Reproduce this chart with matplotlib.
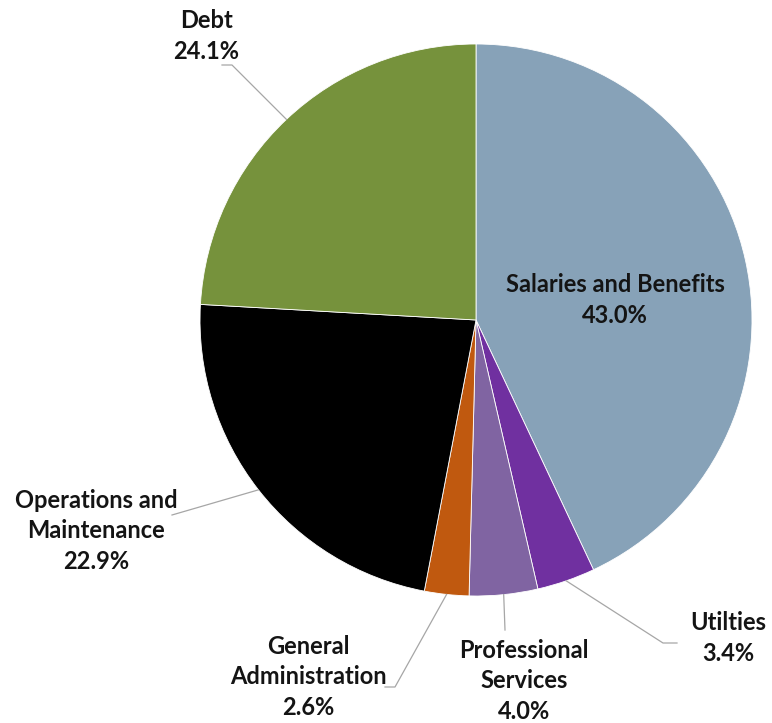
import numpy as np
import matplotlib.pyplot as plt

# slices, clockwise from 12 o'clock
labels = ['Salaries and Benefits', 'Utilties', 'Professional\nServices',
          'General\nAdministration', 'Operations and\nMaintenance', 'Debt']
shares = [43.0, 3.4, 4.0, 2.6, 22.9, 24.1]
colors = ['#87A2B8', '#7030A0', '#8064A2', '#C0590F', '#000000', '#76923C']

W, H = 772, 723
cx, cy, r = 476, 320, 276   # pie centre / radius in pixels (y down)

# label anchor (text centre) and leader elbow points, pixel coords, y down
label_pos = [(615, 300), (728, 638), (524, 681), (308, 677), (96, 531), (206, 36)]
elbows = [None, [(663, 643), (677, 643)], [(505, 630)], [(395, 687), (385, 687)],
          [(172, 515)], [(232, 65), (222, 65)]]

plt.rcParams['font.family'] = ['Lato', 'DejaVu Sans']

fig = plt.figure(figsize=(W / 100, H / 100), dpi=100)
ax = fig.add_axes([0, 0, 1, 1])
ax.set_xlim(0, W)
ax.set_ylim(0, H)
ax.set_aspect('equal')
ax.axis('off')

def py(y):
    return H - y

wedges, _ = ax.pie(shares, colors=colors, startangle=90, counterclock=False,
                   center=(cx, py(cy)), radius=r,
                   wedgeprops=dict(linewidth=0.6, edgecolor='white'))
ax.set_xlim(0, W)
ax.set_ylim(0, H)

for i, w in enumerate(wedges):
    txt = labels[i] + '\n' + f'{shares[i]:.1f}%'
    x, y = label_pos[i]
    ax.text(x, py(y), txt, ha='center', va='center', fontsize=17,
            fontweight='bold', color='#141414', linespacing=1.4)
    if elbows[i] is None:
        continue
    mid = np.deg2rad((w.theta1 + w.theta2) / 2)
    ex = cx + r * np.cos(mid)
    ey = py(cy) + r * np.sin(mid)
    xs = [ex] + [p[0] for p in elbows[i]]
    ys = [ey] + [py(p[1]) for p in elbows[i]]
    ax.plot(xs, ys, color='#A6A6A6', linewidth=0.9)

fig.savefig('out.png', dpi=100)
